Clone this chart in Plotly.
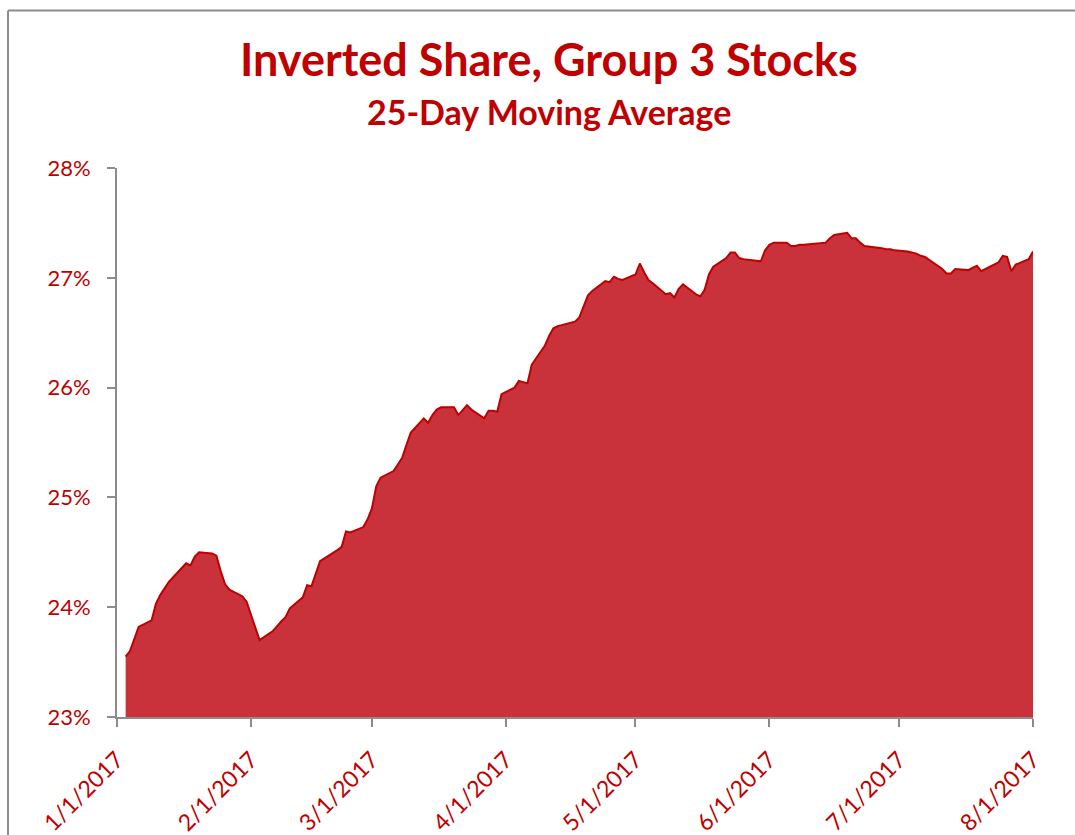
import plotly.graph_objects as go

# 25-day moving average (percent)
dates = [
    "2017-01-03", "2017-01-04", "2017-01-05", "2017-01-06", "2017-01-09", "2017-01-10",
    "2017-01-11", "2017-01-12", "2017-01-13", "2017-01-17", "2017-01-18", "2017-01-19",
    "2017-01-20", "2017-01-23", "2017-01-24", "2017-01-25", "2017-01-26", "2017-01-27",
    "2017-01-30", "2017-01-31", "2017-02-01", "2017-02-02", "2017-02-03", "2017-02-06",
    "2017-02-07", "2017-02-08", "2017-02-09", "2017-02-10", "2017-02-13", "2017-02-14",
    "2017-02-15", "2017-02-16", "2017-02-17", "2017-02-21", "2017-02-22", "2017-02-23",
    "2017-02-24", "2017-02-27", "2017-02-28", "2017-03-01", "2017-03-02", "2017-03-03",
    "2017-03-06", "2017-03-07", "2017-03-08", "2017-03-09", "2017-03-10", "2017-03-13",
    "2017-03-14", "2017-03-15", "2017-03-16", "2017-03-17", "2017-03-20", "2017-03-21",
    "2017-03-22", "2017-03-23", "2017-03-24", "2017-03-27", "2017-03-28", "2017-03-29",
    "2017-03-30", "2017-03-31", "2017-04-03", "2017-04-04", "2017-04-05", "2017-04-06",
    "2017-04-07", "2017-04-10", "2017-04-11", "2017-04-12", "2017-04-13", "2017-04-17",
    "2017-04-18", "2017-04-19", "2017-04-20", "2017-04-21", "2017-04-24", "2017-04-25",
    "2017-04-26", "2017-04-27", "2017-04-28", "2017-05-01", "2017-05-02", "2017-05-03",
    "2017-05-04", "2017-05-05", "2017-05-08", "2017-05-09", "2017-05-10", "2017-05-11",
    "2017-05-12", "2017-05-15", "2017-05-16", "2017-05-17", "2017-05-18", "2017-05-19",
    "2017-05-22", "2017-05-23", "2017-05-24", "2017-05-25", "2017-05-26", "2017-05-30",
    "2017-05-31", "2017-06-01", "2017-06-02", "2017-06-05", "2017-06-06", "2017-06-07",
    "2017-06-08", "2017-06-09", "2017-06-12", "2017-06-13", "2017-06-14", "2017-06-15",
    "2017-06-16", "2017-06-19", "2017-06-20", "2017-06-21", "2017-06-22", "2017-06-23",
    "2017-06-26", "2017-06-27", "2017-06-28", "2017-06-29", "2017-06-30", "2017-07-03",
    "2017-07-05", "2017-07-06", "2017-07-07", "2017-07-10", "2017-07-11", "2017-07-12",
    "2017-07-13", "2017-07-14", "2017-07-17", "2017-07-18", "2017-07-19", "2017-07-20",
    "2017-07-21", "2017-07-24", "2017-07-25", "2017-07-26", "2017-07-27", "2017-07-28",
    "2017-07-31", "2017-08-01",
]
share_pct = [
    23.55, 23.60, 23.71, 23.82, 23.88, 24.03,
    24.11, 24.17, 24.23, 24.40, 24.38, 24.46,
    24.50, 24.49, 24.47, 24.33, 24.21, 24.16,
    24.10, 24.05, 23.94, 23.81, 23.70, 23.78,
    23.83, 23.87, 23.91, 23.99, 24.09, 24.20,
    24.19, 24.31, 24.42, 24.52, 24.55, 24.69,
    24.68, 24.73, 24.80, 24.90, 25.10, 25.18,
    25.24, 25.30, 25.36, 25.48, 25.59, 25.72,
    25.68, 25.75, 25.80, 25.82, 25.82, 25.75,
    25.80, 25.84, 25.80, 25.72, 25.79, 25.79,
    25.78, 25.94, 26.00, 26.06, 26.05, 26.04,
    26.21, 26.38, 26.47, 26.54, 26.56, 26.60,
    26.64, 26.75, 26.84, 26.88, 26.97, 26.96,
    27.01, 26.99, 26.98, 27.03, 27.13, 27.05,
    26.98, 26.95, 26.85, 26.86, 26.82, 26.90,
    26.94, 26.85, 26.83, 26.89, 27.03, 27.10,
    27.18, 27.23, 27.23, 27.18, 27.17, 27.15,
    27.25, 27.30, 27.32, 27.32, 27.29, 27.29,
    27.30, 27.30, 27.31, 27.31, 27.32, 27.36,
    27.39, 27.41, 27.36, 27.36, 27.32, 27.29,
    27.28, 27.27, 27.26, 27.26, 27.25, 27.24,
    27.22, 27.20, 27.19, 27.11, 27.08, 27.04,
    27.04, 27.08, 27.07, 27.09, 27.11, 27.06,
    27.08, 27.14, 27.20, 27.19, 27.06, 27.12,
    27.17, 27.24,
]

month_ticks = ["2017-01-01", "2017-02-01", "2017-03-01", "2017-04-01",
               "2017-05-01", "2017-06-01", "2017-07-01", "2017-08-01"]
month_labels = ["1/1/2017", "2/1/2017", "3/1/2017", "4/1/2017",
                "5/1/2017", "6/1/2017", "7/1/2017", "8/1/2017"]
y_ticks = [23, 24, 25, 26, 27, 28]
y_labels = ["23%", "24%", "25%", "26%", "27%", "28%"]

red = "#C00000"
grey = "#8c8c8c"
font = "Lato, 'Open Sans', sans-serif"

fig = go.Figure()
fig.add_trace(go.Scatter(
    x=dates, y=share_pct, mode="lines",
    line=dict(color=red, width=2),
    fill="tozeroy", fillcolor="rgb(201,50,58)",
    hoverinfo="skip",
))

fig.update_layout(
    width=1075, height=835,
    margin=dict(l=117, r=42, t=168, b=118),
    paper_bgcolor="white", plot_bgcolor="white",
    showlegend=False,
    font=dict(family=font, color=red),
    xaxis=dict(
        range=["2017-01-01", "2017-08-01"],
        tickvals=month_ticks, ticktext=month_labels,
        tickangle=-45, tickfont=dict(size=23, color=red),
        showgrid=False, zeroline=False, automargin=False,
        showline=True, linecolor=grey, linewidth=2,
        ticks="outside", ticklen=8, tickcolor=grey, tickwidth=2,
        ticklabelstandoff=10,
    ),
    yaxis=dict(
        range=[23, 28],
        tickvals=y_ticks, ticktext=y_labels,
        tickfont=dict(size=22, color=red),
        showgrid=False, zeroline=False, automargin=False,
        showline=True, linecolor=grey, linewidth=2,
        ticks="outside", ticklen=8, tickcolor=grey, tickwidth=2,
        ticklabelstandoff=12,
    ),
    annotations=[
        dict(text="<b>Inverted Share, Group 3 Stocks</b>", xref="paper", yref="paper",
             x=0.4716, y=1.198, xanchor="center", yanchor="middle", showarrow=False,
             font=dict(size=45, color=red, family=font)),
        dict(text="<b>25-Day Moving Average</b>", xref="paper", yref="paper",
             x=0.4716, y=1.103, xanchor="center", yanchor="middle", showarrow=False,
             font=dict(size=34, color=red, family=font)),
    ],
    # chart frame: only its top and left edges fall inside the picture
    shapes=[
        dict(type="line", xref="paper", yref="paper",
             x0=-0.119, x1=1.1, y0=1.287, y1=1.287,
             line=dict(color=grey, width=2)),
        dict(type="line", xref="paper", yref="paper",
             x0=-0.119, x1=-0.119, y0=-0.3, y1=1.287,
             line=dict(color=grey, width=2)),
    ],
)

# drop the page's default body margin so the figure fills the window exactly
fig.write_html("out.html", config={"displayModeBar": False},
               post_script="document.body.style.margin='0';"
                           "document.body.style.overflow='hidden';")
